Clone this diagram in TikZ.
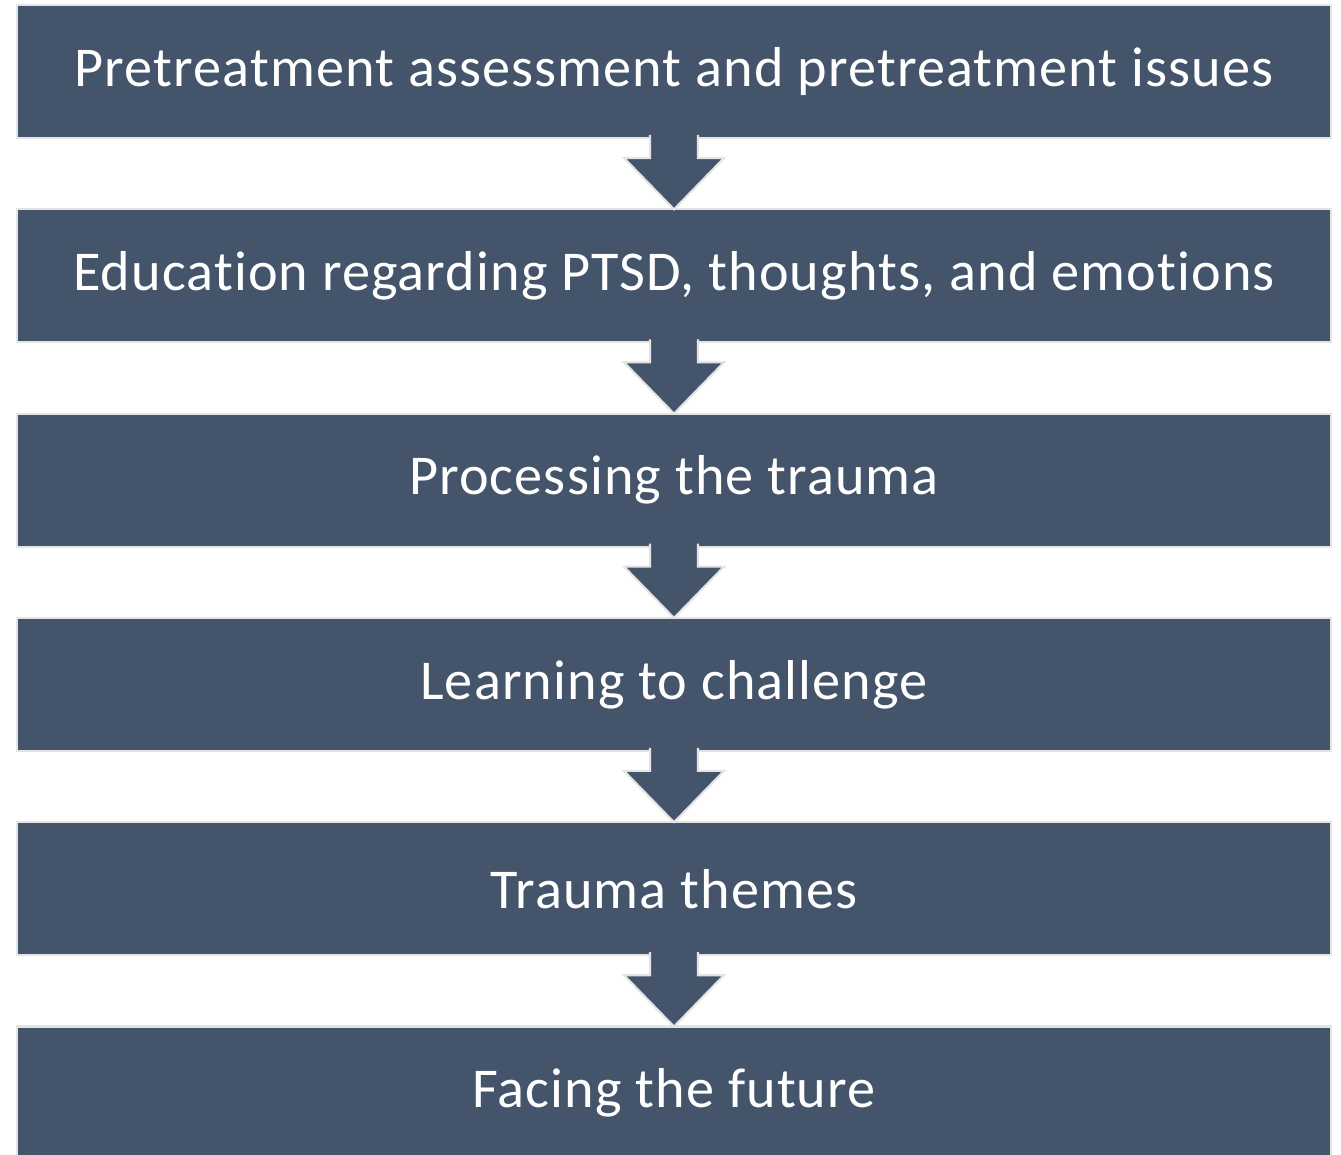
\documentclass[tikz,border=0pt]{standalone}
\usepackage{fontspec}
\setmainfont{Carlito}[LetterSpace=2, Ligatures=NoCommon]
\usepackage{tikz}
\usetikzlibrary{calc}
\usetikzlibrary{positioning}

\definecolor{stepblue}{HTML}{44546A}
\definecolor{stepedge}{HTML}{E4E4E4}

\begin{document}
\begin{tikzpicture}[x=0.02cm, y=-0.02cm,
    every node/.style={rectangle, fill=stepblue, draw=stepedge, line width=1.2pt,
        minimum width=26.28cm, minimum height=2.66cm, outer sep=0pt,
        text=white, font=\fontsize{32}{36}\selectfont},
    stepdown/.style={fill=stepblue, draw=stepedge, line width=1.2pt}]
                    \useasboundingbox (0,0) rectangle (1341,1155);

                    % Nodes
                    \node (pre) at (674, 71.5) {Pretreatment assessment and pretreatment issues};
                    \node (edu) at (674, 275.8) {Education regarding PTSD, thoughts, and emotions};
                    \node (proc) at (674, 480.1) {Processing the trauma};
                    \node (chal) at (674, 684.4) {Learning to challenge};
                    \node (themes) at (674, 888.7) {Trauma themes};
                    \node (future) at (674, 1093) {Facing the future};

                    % Arrows
                    % pre to edu
                    \draw[stepdown] ($(pre.south)+(-24,-3)$) -- ++(0,23) -- ++(-26,0) -- (edu.north) -- ($(pre.south)+(50,20)$) -- ++(-26,0) -- ++(0,-23);

                    % edu to proc
                    \draw[stepdown] ($(edu.south)+(-24,-3)$) -- ++(0,23) -- ++(-26,0) -- (proc.north) -- ($(edu.south)+(50,20)$) -- ++(-26,0) -- ++(0,-23);

                    % proc to chal
                    \draw[stepdown] ($(proc.south)+(-24,-3)$) -- ++(0,23) -- ++(-26,0) -- (chal.north) -- ($(proc.south)+(50,20)$) -- ++(-26,0) -- ++(0,-23);

                    % chal to themes
                    \draw[stepdown] ($(chal.south)+(-24,-3)$) -- ++(0,23) -- ++(-26,0) -- (themes.north) -- ($(chal.south)+(50,20)$) -- ++(-26,0) -- ++(0,-23);

                    % themes to future
                    \draw[stepdown] ($(themes.south)+(-24,-3)$) -- ++(0,23) -- ++(-26,0) -- (future.north) -- ($(themes.south)+(50,20)$) -- ++(-26,0) -- ++(0,-23);

                \end{tikzpicture}
\end{document}
